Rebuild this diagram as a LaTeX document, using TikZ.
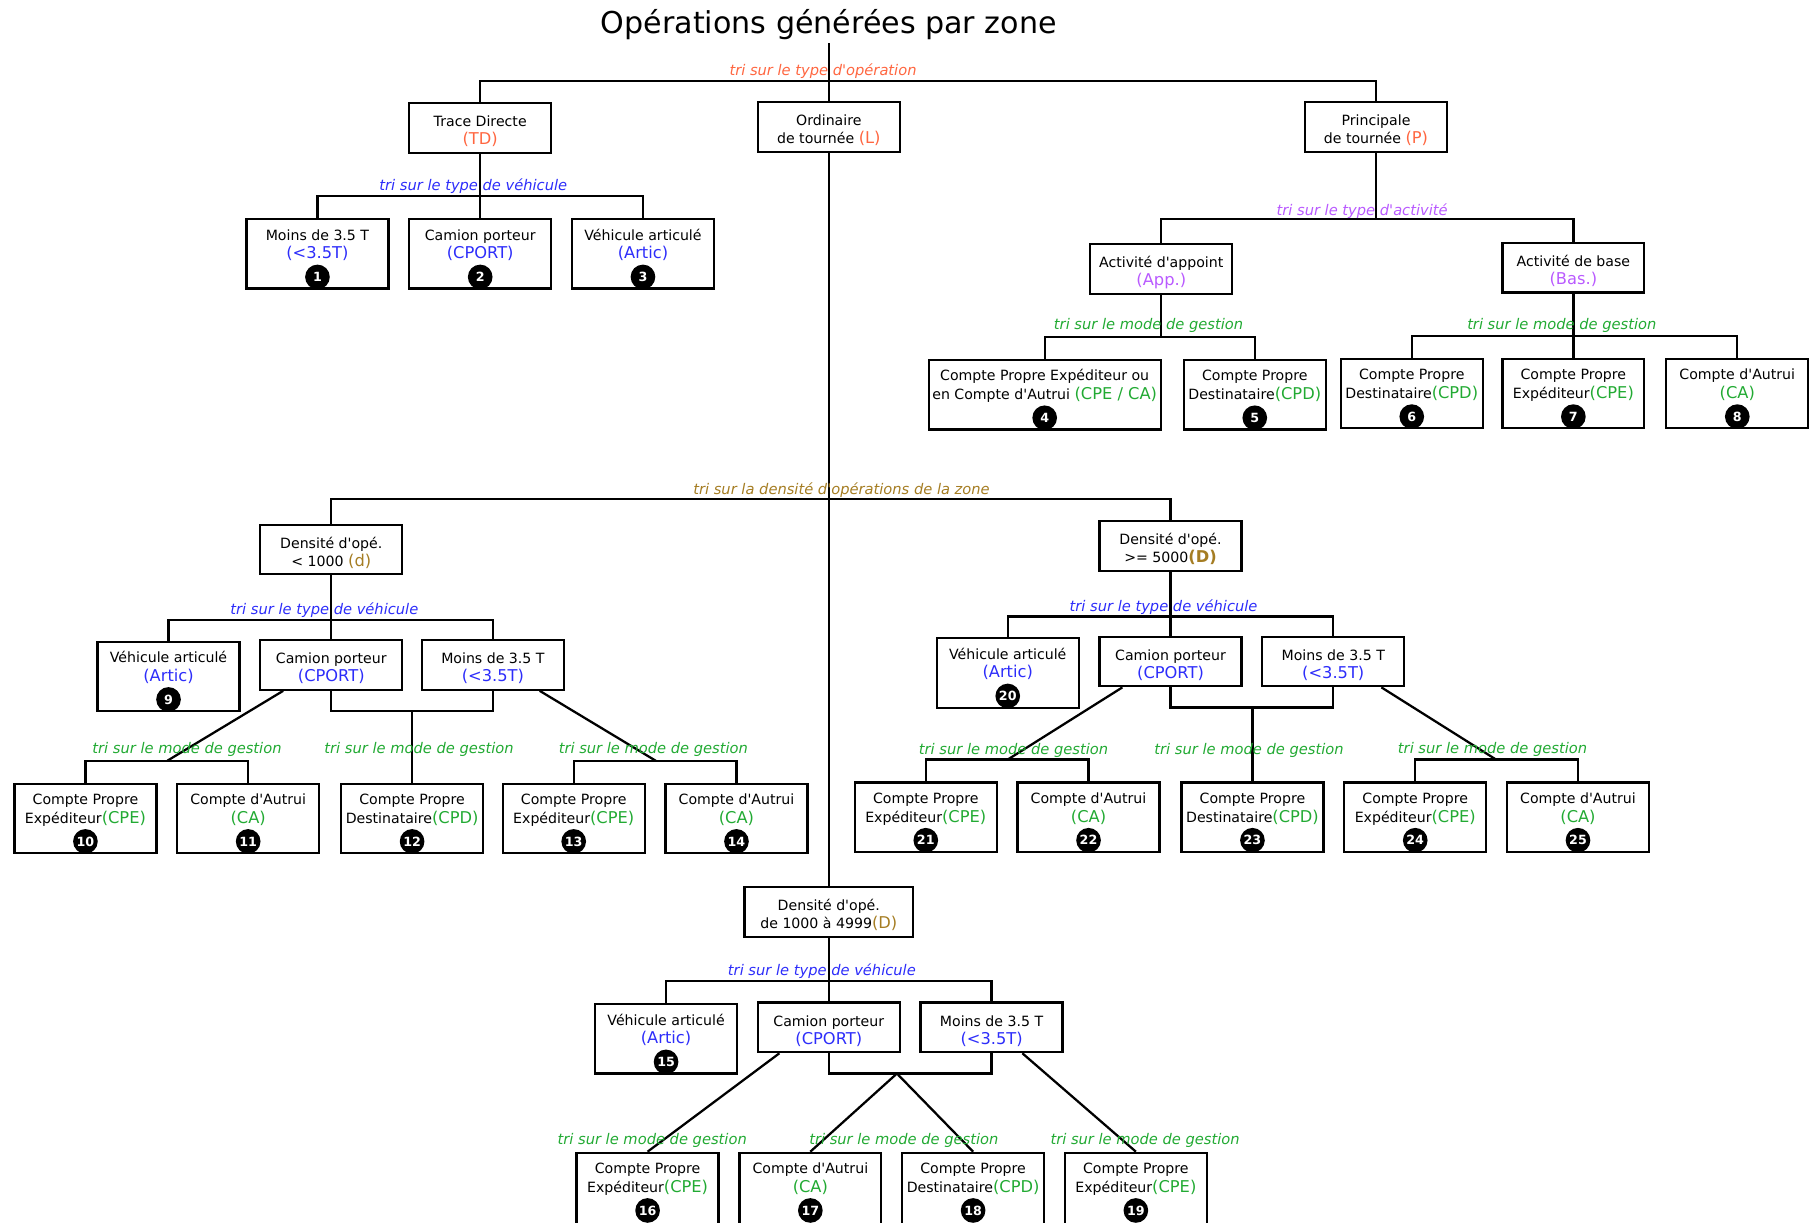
\documentclass[tikz,border=0pt]{standalone}
\usepackage{fontspec}
\setmainfont{DejaVu Sans}
\usepackage{tikz}
\usetikzlibrary{positioning}
\definecolor{orop}{RGB}{255,102,64}
\definecolor{bleuv}{RGB}{45,45,250}
\definecolor{violact}{RGB}{185,90,255}
\definecolor{vertg}{RGB}{34,170,51}
\definecolor{ordens}{RGB}{165,125,35}
\tikzstyle{box}=[draw, rectangle, align=center, inner sep=1pt, minimum width=106.5pt, minimum height=37.2pt, font=\fontsize{10.6}{13.5}\selectfont]
\tikzstyle{tbox}=[draw, rectangle, inner sep=0pt, minimum width=106.5pt, minimum height=52pt]
\tikzstyle{txt}=[align=center, inner sep=0pt, font=\fontsize{10.6}{14}\selectfont]
\tikzstyle{num}=[circle, fill=black, text=white, inner sep=0pt, minimum size=18.5pt, font=\bfseries\fontsize{9.5}{9.5}\selectfont]
\tikzstyle{tri}=[inner sep=0pt, yshift=-1.7pt, font=\itshape\fontsize{11}{13}\selectfont]
\tikzset{every picture/.style={
    line width=1.7pt
  }
}
\newcommand{\apo}{\textquotesingle}
\newcommand{\ab}[2]{{\color{#1}\fontsize{12.2}{13.5}\selectfont #2}}
\newcommand{\hs}{\rule{0pt}{13.3pt}}
% boite haute : cadre, texte en haut, numero en bas
\newcommand{\feuille}[5][]{%
  \node[tbox, #1] (#2) at (#3) {};
  \node[txt, below=6.6pt of #2.north] (#2t) {\rule{0pt}{9pt}#4};
  \node[num, below=34pt of #2.north] (#2n) {#5};
}

\begin{document}
\begin{tikzpicture}[x=0.866pt, y=-0.866pt]
  \useasboundingbox (0,0) rectangle (1568,1059);
  \clip (0,0) rectangle (1568,1059);

  \node[font=\fontsize{22.6}{26}\selectfont, inner sep=2pt] (titre) at (718,21) {Opérations générées par zone};

  % type d'operation
  \node[box] (TD) at (416,111) {\hs Trace Directe\\\ab{orop}{(TD)}};
  \node[box] (L) at (718,110) {\hs Ordinaire\\de tournée \ab{orop}{(L)}};
  \node[box] (P) at (1192,110) {\hs Principale\\de tournée \ab{orop}{(P)}};
  \coordinate (j1) at (718,70);
  \draw (titre.south) -- (L.north);
  \draw (TD.north) |- (j1) -| (P.north);
  \node[tri, text=orop] (e1) at (713,60) {tri sur le type d\apo opération};

  % trace directe
  \feuille{b1}{275,220}{Moins de 3.5 T\\\ab{bleuv}{(<3.5T)}}{1}
  \feuille{b2}{416,220}{Camion porteur\\\ab{bleuv}{(CPORT)}}{2}
  \feuille{b3}{557,220}{Véhicule articulé\\\ab{bleuv}{(Artic)}}{3}
  \coordinate (j2) at (416,170);
  \draw (TD.south) -- (b2.north);
  \draw (b1.north) |- (j2) -| (b3.north);
  \node[tri, text=bleuv] (e2) at (410,159) {tri sur le type de véhicule};

  % principale
  \node[box] (app) at (1006,233) {\hs Activité d\apo appoint\\\ab{violact}{(App.)}};
  \node[box] (bas) at (1363,232) {\hs Activité de base\\\ab{violact}{(Bas.)}};
  \coordinate (j3) at (1192,190);
  \draw (P.south) -- (j3);
  \draw (app.north) |- (j3) -| (bas.north);
  \node[tri, text=violact] (e3) at (1180,181) {tri sur le type d\apo activité};

  \feuille[minimum width=174pt]{b4}{905,342}{Compte Propre Expéditeur ou\\en Compte d\apo Autrui \ab{vertg}{(CPE / CA)}}{4}
  \feuille{b5}{1087,342}{Compte Propre\\Destinataire\ab{vertg}{(CPD)}}{5}
  \coordinate (j4) at (1006,292);
  \draw (app.south) -- (j4);
  \draw (b4.north) |- (j4) -| (b5.north);
  \node[tri, text=vertg] (e4) at (995,280) {tri sur le mode de gestion};

  \feuille{b6}{1223,341}{Compte Propre\\Destinataire\ab{vertg}{(CPD)}}{6}
  \feuille{b7}{1363,341}{Compte Propre\\Expéditeur\ab{vertg}{(CPE)}}{7}
  \feuille{b8}{1505,341}{Compte d\apo Autrui\\\ab{vertg}{(CA)}}{8}
  \coordinate (j5) at (1363,291);
  \draw (bas.south) -- (b7.north);
  \draw (b6.north) |- (j5) -| (b8.north);
  \node[tri, text=vertg] (e5) at (1353,280) {tri sur le mode de gestion};

  % densite
  \node[box] (dl) at (287,476) {\hs Densité d\apo opé.\\< 1000 \ab{ordens}{(d)}};
  \node[box] (dr) at (1014,473) {\hs Densité d\apo opé.\\>= 5000\ab{ordens}{\bfseries(D)}};
  \node[box, minimum width=126.4pt] (dm) at (718,790) {\hs Densité d\apo opé.\\de 1000 à 4999\ab{ordens}{(D)}};
  \coordinate (j6) at (718,432);
  \draw (L.south) -- (dm.north);
  \draw (dl.north) |- (j6) -| (dr.north);
  \node[tri, text=ordens] (e6) at (729,423) {tri sur la densité d\apo opérations de la zone};

  % densite < 1000
  \feuille{al}{146,586}{Véhicule articulé\\\ab{bleuv}{(Artic)}}{9}
  \node[box] (cl) at (287,576) {\hs Camion porteur\\\ab{bleuv}{(CPORT)}};
  \node[box] (ml) at (427,576) {\hs Moins de 3.5 T\\\ab{bleuv}{(<3.5T)}};
  \coordinate (j7) at (287,537);
  \draw (dl.south) -- (cl.north);
  \draw (al.north) |- (j7) -| (ml.north);
  \node[tri, text=bleuv] (e7) at (281,527) {tri sur le type de véhicule};

  \feuille{b10}{74,709}{Compte Propre\\Expéditeur\ab{vertg}{(CPE)}}{10}
  \feuille{b11}{215,709}{Compte d\apo Autrui\\\ab{vertg}{(CA)}}{11}
  \feuille{b12}{357,709}{Compte Propre\\Destinataire\ab{vertg}{(CPD)}}{12}
  \feuille{b13}{497,709}{Compte Propre\\Expéditeur\ab{vertg}{(CPE)}}{13}
  \feuille{b14}{638,709}{Compte d\apo Autrui\\\ab{vertg}{(CA)}}{14}
  \coordinate (k1) at (357,616);
  \coordinate (j8) at (145,659);
  \coordinate (j9) at (568,659);
  \draw (cl.south) |- (k1) -| (ml.south);
  \draw (k1) -- (b12.north);
  \draw ([xshift=18pt]cl.south west) -- (j8);
  \draw (b10.north) |- (j8) -| (b11.north);
  \draw ([xshift=-19pt]ml.south east) -- (j9);
  \draw (b13.north) |- (j9) -| (b14.north);
  \node[tri, text=vertg] (e8) at (162,647) {tri sur le mode de gestion};
  \node[tri, text=vertg] (e9) at (363,647) {tri sur le mode de gestion};
  \node[tri, text=vertg] (e10) at (566,647) {tri sur le mode de gestion};

  % densite >= 5000
  \feuille{ar}{873,583}{Véhicule articulé\\\ab{bleuv}{(Artic)}}{20}
  \node[box] (cr) at (1014,573) {\hs Camion porteur\\\ab{bleuv}{(CPORT)}};
  \node[box] (mr) at (1155,573) {\hs Moins de 3.5 T\\\ab{bleuv}{(<3.5T)}};
  \coordinate (j10) at (1014,534);
  \draw (dr.south) -- (cr.north);
  \draw (ar.north) |- (j10) -| (mr.north);
  \node[tri, text=bleuv] (e11) at (1008,524) {tri sur le type de véhicule};

  \feuille{b21}{802,708}{Compte Propre\\Expéditeur\ab{vertg}{(CPE)}}{21}
  \feuille{b22}{943,708}{Compte d\apo Autrui\\\ab{vertg}{(CA)}}{22}
  \feuille{b23}{1085,708}{Compte Propre\\Destinataire\ab{vertg}{(CPD)}}{23}
  \feuille{b24}{1226,708}{Compte Propre\\Expéditeur\ab{vertg}{(CPE)}}{24}
  \feuille{b25}{1367,708}{Compte d\apo Autrui\\\ab{vertg}{(CA)}}{25}
  \coordinate (k2) at (1085,613);
  \coordinate (j11) at (873,658);
  \coordinate (j12) at (1296,658);
  \draw (cr.south) |- (k2) -| (mr.south);
  \draw (k2) -- (b23.north);
  \draw ([xshift=18pt]cr.south west) -- (j11);
  \draw (b21.north) |- (j11) -| (b22.north);
  \draw ([xshift=-18pt]mr.south east) -- (j12);
  \draw (b24.north) |- (j12) -| (b25.north);
  \node[tri, text=vertg] (e12) at (878,648) {tri sur le mode de gestion};
  \node[tri, text=vertg] (e13) at (1082,648) {tri sur le mode de gestion};
  \node[tri, text=vertg] (e14) at (1293,647) {tri sur le mode de gestion};

  % densite de 1000 a 4999
  \feuille{am}{577,900}{Véhicule articulé\\\ab{bleuv}{(Artic)}}{15}
  \node[box] (cm) at (718,890) {\hs Camion porteur\\\ab{bleuv}{(CPORT)}};
  \node[box] (mm) at (859,890) {\hs Moins de 3.5 T\\\ab{bleuv}{(<3.5T)}};
  \coordinate (j13) at (718,850);
  \draw (dm.south) -- (cm.north);
  \draw (am.north) |- (j13) -| (mm.north);
  \node[tri, text=bleuv] (e15) at (712,839) {tri sur le type de véhicule};

  % boites coupees par le bas de l'image
  \feuille[minimum height=56pt]{b16}{561,1031}{Compte Propre\\Expéditeur\ab{vertg}{(CPE)}}{16}
  \feuille[minimum height=56pt]{b17}{702,1031}{Compte d\apo Autrui\\\ab{vertg}{(CA)}}{17}
  \feuille[minimum height=56pt]{b18}{843,1031}{Compte Propre\\Destinataire\ab{vertg}{(CPD)}}{18}
  \feuille[minimum height=56pt]{b19}{984,1031}{Compte Propre\\Expéditeur\ab{vertg}{(CPE)}}{19}
  \coordinate (k3) at (777,930);
  \draw (cm.south) |- (k3) -| (mm.south);
  \draw (k3) -- (b17.north);
  \draw (k3) -- (b18.north);
  \draw ([xshift=17pt]cm.south west) -- (b16.north);
  \draw ([xshift=-31pt]mm.south east) -- (b19.north);
  \node[tri, text=vertg] (e16) at (565,986) {tri sur le mode de gestion};
  \node[tri, text=vertg] (e17) at (783,986) {tri sur le mode de gestion};
  \node[tri, text=vertg] (e18) at (992,986) {tri sur le mode de gestion};
\end{tikzpicture}
\end{document}
